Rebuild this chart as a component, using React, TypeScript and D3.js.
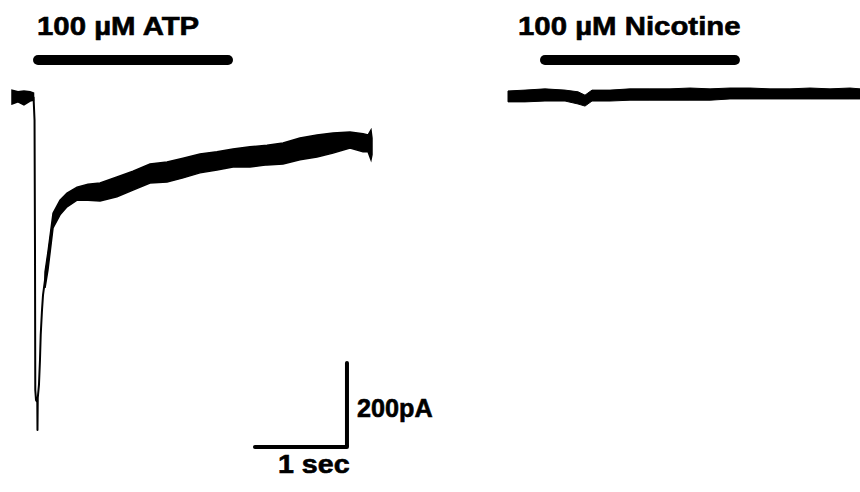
import React from "react";
import * as d3 from "d3";

// time in seconds, current in pA (inward = negative)

// ATP: baseline before the drug, envelope [t, upper, lower]
const atpBaseline: [number, number, number][] = [
  [0, 14, -19], [0.065, 10, -14], [0.13, 12, -21], [0.196, 10, -12], [0.234, 7, -10]
];

// ATP: fast inward peak, single trace [t, current]
const atpPeak: [number, number][] = [
  [0.234, -2], [0.245, -57], [0.25, -367], [0.253, -700], [0.261, -724],
  [0.275, -729], [0.277, -795], [0.28, -719], [0.293, -688], [0.304, -629],
  [0.312, -569], [0.326, -510], [0.337, -474], [0.359, -438], [0.38, -402],
  [0.402, -367], [0.424, -331], [0.446, -300]
];

// ATP: slow decay with noise, envelope [t, upper, lower]
const atpDecay: [number, number, number][] = [
  [0.359, -419, -457], [0.391, -371, -414], [0.446, -279, -314], [0.522, -248, -283],
  [0.598, -231, -264], [0.707, -217, -248], [0.826, -210, -248], [0.957, -207, -250],
  [1.141, -193, -240], [1.315, -179, -224], [1.5, -162, -207], [1.685, -157, -205],
  [1.859, -148, -195], [2.043, -138, -183], [2.228, -133, -176], [2.402, -126, -169],
  [2.587, -121, -169], [2.772, -117, -164], [2.946, -112, -162], [3.13, -100, -152],
  [3.315, -93, -145], [3.489, -88, -136], [3.674, -86, -124], [3.815, -90, -133],
  [3.87, -93, -133], [3.902, -81, -152], [3.913, -100, -140]
];

// Nicotine: no response, envelope [t, upper, lower]
const nicotineTrace: [number, number, number][] = [
  [0, 12, -14], [0.185, 14, -14], [0.402, 17, -12], [0.62, 14, -12], [0.761, 10, -19],
  [0.837, 2, -24], [0.913, 14, -12], [1.109, 14, -12], [1.326, 17, -10], [1.543, 17, -10],
  [1.761, 17, -10], [1.978, 19, -10], [2.196, 17, -10], [2.413, 19, -7], [2.63, 19, -7],
  [2.848, 17, -7], [3.065, 17, -7], [3.283, 19, -7], [3.5, 17, -7], [3.717, 19, -7],
  [3.826, 17, -7]
];

// drug application bars [start, end] in s
const atpApplication = [0.283, 2.348];
const nicotineApplication = [0.402, 2.467];

// scale bar: 1 sec x 200 pA, corner at
const scaleBarT = 2.641;
const scaleBarI = -836;
const scaleBarSec = 1;
const scaleBarPA = 200;

const labels = {
  atp: "100 \u00b5M ATP",
  nicotine: "100 \u00b5M Nicotine",
  time: "1 sec",
  current: "200pA"
};

const W = 860;
const H = 492;

export default function App() {
  const y = d3.scaleLinear().domain([0, -800]).range([96, 432]);
  const xAtp = d3.scaleLinear().domain([0, 4]).range([12, 380]);
  const xNic = d3.scaleLinear().domain([0, 4]).range([508, 876]);

  const band = (x: d3.ScaleLinear<number, number>) =>
    d3.area<[number, number, number]>()
      .x((d) => x(d[0]))
      .y0((d) => y(d[1]))
      .y1((d) => y(d[2]));

  const line = d3.line<[number, number]>()
    .x((d) => xAtp(d[0]))
    .y((d) => y(d[1]));

  const font = "'Liberation Sans', Arial, Helvetica, sans-serif";
  const barY = 60;
  const textProps = {
    fontFamily: font,
    fontWeight: 700,
    fontSize: 26,
    fill: "#000",
    stroke: "#000",
    strokeWidth: 0.6
  };

  return (
    <svg
      width={W}
      height={H}
      style={{ position: "absolute", left: 0, top: 0, background: "#fff" }}
    >
      {/* ATP panel */}
      <text transform={`translate(37,35) scale(1.13,1)`} {...textProps}>{labels.atp}</text>
      <line
        x1={xAtp(atpApplication[0])} x2={xAtp(atpApplication[1])}
        y1={barY} y2={barY}
        stroke="#000" strokeWidth={10} strokeLinecap="round"
      />
      <path d={band(xAtp)(atpBaseline) ?? ""} fill="#000" stroke="#000" strokeWidth={1.5} />
      <path d={line(atpPeak) ?? ""} fill="none" stroke="#000" strokeWidth={2} strokeLinejoin="round" />
      <path d={band(xAtp)(atpDecay) ?? ""} fill="#000" stroke="#000" strokeWidth={1.5} />

      {/* scale bar */}
      <path
        d={`M${xAtp(scaleBarT)},${y(scaleBarI)}H${xAtp(scaleBarT + scaleBarSec)}V${y(scaleBarI + scaleBarPA)}`}
        fill="none" stroke="#000" strokeWidth={4} strokeLinecap="round" strokeLinejoin="round"
      />
      <text transform={`translate(278,473) scale(1.1,1)`} {...textProps}>{labels.time}</text>
      <text transform={`translate(357,417) scale(0.97,1)`} {...textProps}>{labels.current}</text>

      {/* Nicotine panel */}
      <text transform={`translate(518,35) scale(1.13,1)`} {...textProps}>{labels.nicotine}</text>
      <line
        x1={xNic(nicotineApplication[0])} x2={xNic(nicotineApplication[1])}
        y1={barY} y2={barY}
        stroke="#000" strokeWidth={10} strokeLinecap="round"
      />
      <path d={band(xNic)(nicotineTrace) ?? ""} fill="#000" stroke="#000" strokeWidth={1} />
    </svg>
  );
}
